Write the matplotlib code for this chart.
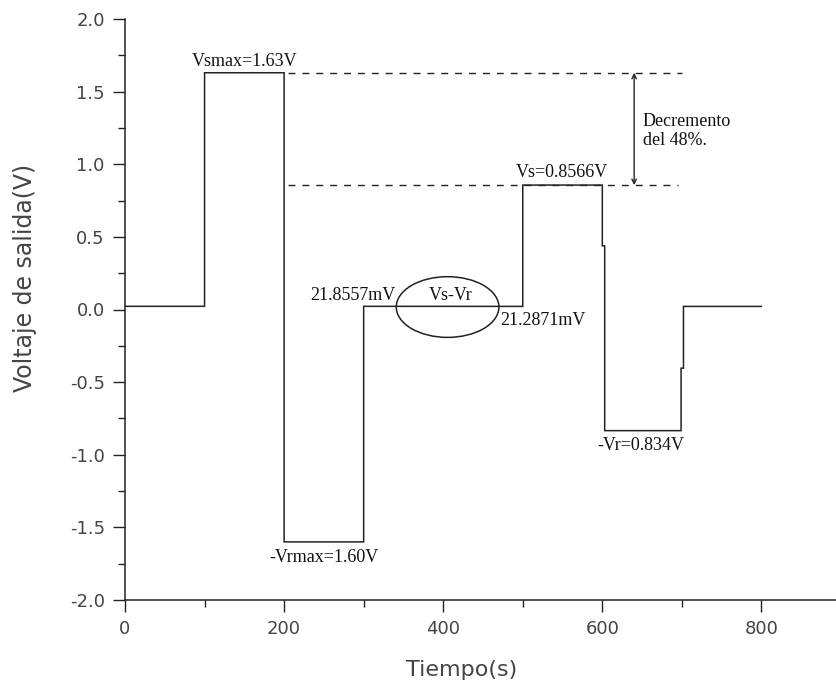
import matplotlib
matplotlib.use("Agg")
import matplotlib.pyplot as plt
from matplotlib.patches import Ellipse
from matplotlib.ticker import MultipleLocator

# Signal vertices (step waveform)
tiempo = [0, 100, 100, 200, 200, 300, 300, 500, 500, 600, 600, 603, 603, 699, 699, 702, 702, 800]
voltaje = [0.0219, 0.0219, 1.63, 1.63, -1.60, -1.60, 0.0219, 0.0213, 0.8566, 0.8566,
           0.438, 0.438, -0.834, -0.834, -0.404, -0.404, 0.0213, 0.0213]

vs_max = 1.63
vs = 0.8566
x_ticks = [0, 200, 400, 600, 800]
y_ticks = [-2.0, -1.5, -1.0, -0.5, 0.0, 0.5, 1.0, 1.5, 2.0]

fig = plt.figure(figsize=(8.37, 6.88), dpi=100)
ax = fig.add_axes([125/837, 88/688, 712/837, 581/688])

ax.plot(tiempo, voltaje, color='#222222', lw=1.1, solid_joinstyle='miter')

# dashed reference lines
ax.plot([205, 700], [vs_max, vs_max], color='#222222', lw=1.0, ls=(0, (5, 5)))
ax.plot([205, 695], [vs, vs], color='#222222', lw=1.0, ls=(0, (5, 5)))

# double arrow
ax.annotate('', xy=(640, vs), xytext=(640, vs_max),
            arrowprops=dict(arrowstyle='<->', color='#222222', lw=1.0,
                            shrinkA=0, shrinkB=0, mutation_scale=8))

serif = dict(family='Liberation Serif', fontsize=13, color='#111111')
ax.text(651, 1.23, 'Decremento\ndel 48%.', ha='left', va='center', linespacing=1.15, **serif)
ax.text(150, 1.65, 'Vsmax=1.63V', ha='center', va='bottom', **serif)
ax.text(250, -1.65, '-Vrmax=1.60V', ha='center', va='top', **serif)
ax.text(340, 0.095, '21.8557mV', ha='right', va='center', **serif)
ax.text(409, 0.095, 'Vs-Vr', ha='center', va='center', **serif)
ax.text(472, -0.075, '21.2871mV', ha='left', va='center', **serif)
ax.text(549, 0.885, 'Vs=0.8566V', ha='center', va='bottom', **serif)
ax.text(648, -0.88, '-Vr=0.834V', ha='center', va='top', **serif)

ax.add_patch(Ellipse((405.5, 0.017), 129, 0.418, fill=False, edgecolor='#222222', lw=1.1))

ax.set_xlim(0, 895)
ax.set_ylim(-2.0, 2.0)
ax.set_xticks(x_ticks)
ax.set_yticks(y_ticks)
ax.set_yticklabels([f'{v:.1f}' for v in y_ticks])
ax.xaxis.set_minor_locator(MultipleLocator(100))
ax.yaxis.set_minor_locator(MultipleLocator(0.25))

for s in ['top', 'right']:
    ax.spines[s].set_visible(False)
for s in ['left', 'bottom']:
    ax.spines[s].set_linewidth(1.1)
    ax.spines[s].set_color('#222222')

ax.tick_params(which='major', direction='out', length=8.5, width=1.0, color='#222222',
               labelsize=13, labelcolor='#444444', pad=6)
ax.tick_params(which='minor', direction='out', length=5, width=1.0, color='#222222')
for lab in ax.get_xticklabels() + ax.get_yticklabels():
    lab.set_family('DejaVu Sans')

ax.set_xlabel('Tiempo(s)', fontsize=16, color='#444444', family='DejaVu Sans')
ax.set_ylabel('Voltaje de salida(V)', fontsize=17, color='#444444', family='DejaVu Sans')
ax.xaxis.set_label_coords(0.473, -0.104)
ax.yaxis.set_label_coords(-0.124, 0.554)

fig.savefig('out.png', dpi=100)
